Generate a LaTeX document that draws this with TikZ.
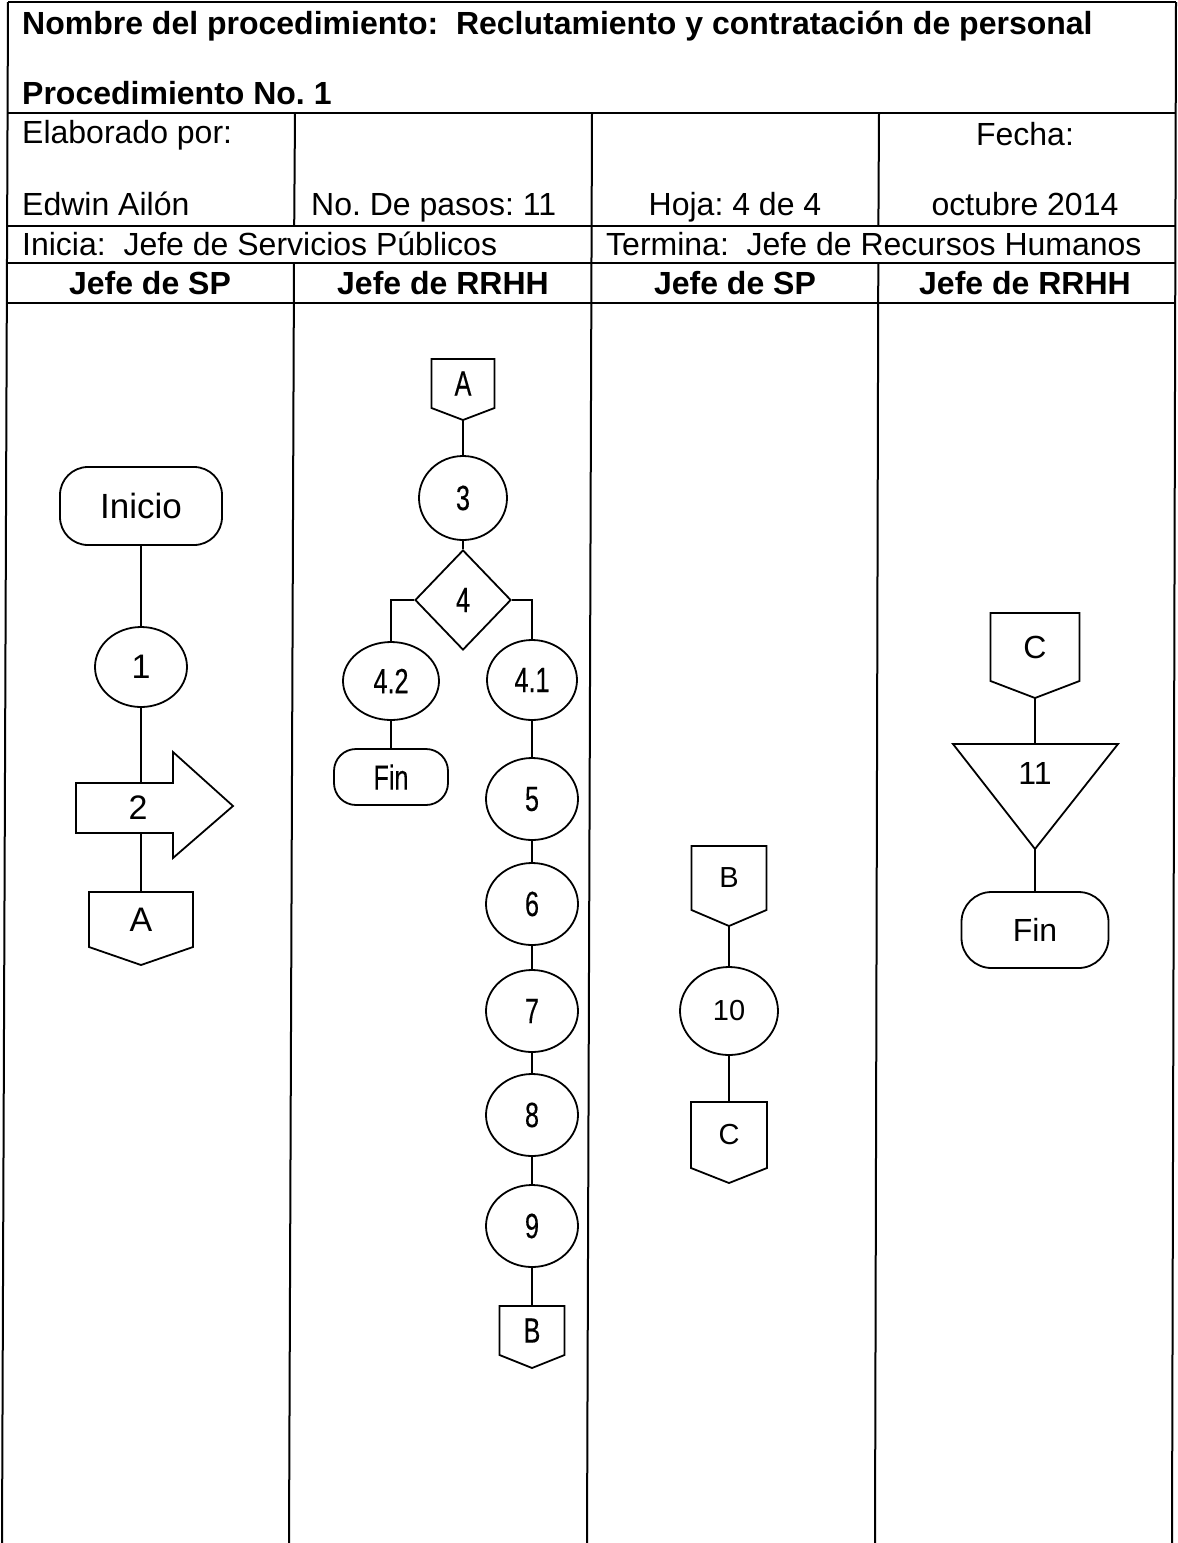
\documentclass[tikz,border=0pt]{standalone}
\usepackage{fontspec}
\setmainfont{Liberation Sans}
\newfontfamily\narrowfont[FakeStretch=0.72,FakeBold=0.3]{Liberation Sans}
\usetikzlibrary{shapes.geometric}
\frenchspacing

\newcommand\fH{\fontsize{32}{37}\selectfont}
\newcommand\fL{\fontsize{34}{39}\selectfont}
\newcommand\fN{\narrowfont\fontsize{35}{40}\selectfont}
\newcommand\fS{\fontsize{29}{34}\selectfont}
\newcommand\fM{\fontsize{32}{37}\selectfont}

\tikzset{
  grid/.style={line width=2pt},
  shp/.style={draw, line width=1.8pt},
  conn/.style={line width=1.8pt},
  lbl/.style={inner sep=0pt},
  hdr/.style={inner sep=0pt, font=\fH},
  hdrb/.style={inner sep=0pt, font=\fH\bfseries},
  proc/.style={shp, ellipse, inner sep=0pt},
  termbox/.style={shp, rectangle, inner sep=0pt},
}

% name, cx, top, half width, side bottom, point, text, font
\newcommand{\offpage}[8]{%
  \draw[shp] (#2-#4,#3) -- (#2+#4,#3) -- (#2+#4,#5) -- (#2,#6) -- (#2-#4,#5) -- cycle;
  \node[lbl, font=#8] (#1) at (#2,{(#3+#5)/2}) {#7};
  \coordinate (#1-in) at (#2,#3);
  \coordinate (#1-out) at (#2,#6);}

\begin{document}
\begin{tikzpicture}[x=1pt,y=-1pt]
\useasboundingbox (0,0) rectangle (1178,1543);

% ---------- table grid ----------
\draw[grid] (8,2) -- (1176,2);
\draw[grid] (8,113) -- (1176,113);
\draw[grid] (8,226) -- (1176,226);
\draw[grid] (8,263) -- (1176,263);
\draw[grid] (8,303) -- (1176,303);
\draw[grid] (8,2) -- (2,1543);
\draw[grid] (1176,2) -- (1172,1543);
\draw[grid] (295,113) -- (294.2,226);
\draw[grid] (294,263) -- (289,1543);
\draw[grid] (592,113) -- (587,1543);
\draw[grid] (879,113) -- (878.4,226);
\draw[grid] (878.3,263) -- (875,1543);

% ---------- header texts ----------
\node[hdrb, anchor=base west] (title) at (22,34) {Nombre del procedimiento:\ \ Reclutamiento y contratación de personal};
\node[hdrb, anchor=base west] (procno) at (22,104) {Procedimiento No. 1};
\node[hdr, anchor=base west] (elab) at (22,143) {Elaborado por:};
\node[hdr, anchor=base] (fecha) at (1025,145) {Fecha:};
\node[hdr, anchor=base west] (autor) at (22,215) {Edwin Ailón};
\node[hdr, anchor=base west] (pasos) at (311,215) {No. De pasos: 11};
\node[hdr, anchor=base] (hoja) at (735,215) {Hoja: 4 de 4};
\node[hdr, anchor=base] (fechav) at (1025,215) {octubre 2014};
\node[hdr, anchor=base west] (inicia) at (22,255) {Inicia:\ \ Jefe de Servicios Públicos};
\node[hdr, anchor=base west] (termina) at (606,255) {Termina:\ \ Jefe de Recursos Humanos};
\node[hdrb, anchor=base] (lane1) at (150,294) {Jefe de SP};
\node[hdrb, anchor=base] (lane2) at (443,294) {Jefe de RRHH};
\node[hdrb, anchor=base] (lane3) at (735,294) {Jefe de SP};
\node[hdrb, anchor=base] (lane4) at (1025,294) {Jefe de RRHH};

% ---------- lane 1 ----------
\node[termbox, rounded corners=28pt, minimum width=162pt, minimum height=78pt, font=\fontsize{35}{40}\selectfont] (inicio) at (141,506) {Inicio};
\node[proc, minimum width=92pt, minimum height=80pt, font=\fL] (p1) at (141,667) {1};
\draw[shp] (76,783) -- (173,783) -- (173,752) -- (233,806) -- (173,858) -- (173,833) -- (76,833) -- cycle;
\node[lbl, font=\fL] (p2) at (138,808) {2};
\coordinate (p2in) at (141,783);
\coordinate (p2out) at (141,833);
\offpage{A1}{141}{892}{52}{947}{965}{A}{\fL}

\draw[conn] (inicio.south) -- (p1.north);
\draw[conn] (p1.south) -- (p2in);
\draw[conn] (p2out) -- (A1-in);

% ---------- lane 2 ----------
\offpage{A2}{463}{359}{31.5}{408}{420}{A}{\fN}
\node[proc, minimum width=88pt, minimum height=84pt, font=\fN] (p3) at (463,498) {3};
\node[shp, diamond, minimum width=96pt, minimum height=100pt, inner sep=0pt, font=\fN] (p4) at (463,600) {4};
\node[proc, minimum width=96pt, minimum height=78pt, font=\fN] (p42) at (391,681) {4.2};
\node[proc, minimum width=90pt, minimum height=80pt, font=\fN] (p41) at (532,680) {4.1};
\node[termbox, rounded corners=22pt, minimum width=114pt, minimum height=56pt, font=\fN] (fin2) at (391,777) {Fin};
\node[proc, minimum width=92pt, minimum height=82pt, font=\fN] (p5) at (532,799) {5};
\node[proc, minimum width=92pt, minimum height=82pt, font=\fN] (p6) at (532,904) {6};
\node[proc, minimum width=92pt, minimum height=82pt, font=\fN] (p7) at (532,1011) {7};
\node[proc, minimum width=92pt, minimum height=82pt, font=\fN] (p8) at (532,1115) {8};
\node[proc, minimum width=92pt, minimum height=82pt, font=\fN] (p9) at (532,1226) {9};
\offpage{B2}{532}{1306}{32.5}{1355}{1368}{B}{\fN}

\draw[conn] (A2-out) -- (p3.north);
\draw[conn] (p3.south) -- (p4.north);
\draw[conn] (p4.west) -| (p42.north);
\draw[conn] (p4.east) -| (p41.north);
\draw[conn] (p42.south) -- (fin2.north);
\draw[conn] (p41.south) -- (p5.north);
\draw[conn] (p5.south) -- (p6.north);
\draw[conn] (p6.south) -- (p7.north);
\draw[conn] (p7.south) -- (p8.north);
\draw[conn] (p8.south) -- (p9.north);
\draw[conn] (p9.south) -- (B2-in);

% ---------- lane 3 ----------
\offpage{B3}{729}{846}{37.5}{910}{926}{B}{\fS}
\node[proc, minimum width=98pt, minimum height=88pt, font=\fS] (p10) at (729,1011) {10};
\offpage{C3}{729}{1102}{38}{1168}{1183}{C}{\fS}
\draw[conn] (B3-out) -- (p10.north);
\draw[conn] (p10.south) -- (C3-in);

% ---------- lane 4 ----------
\offpage{C4}{1035}{613}{44.5}{681}{698}{C}{\fM}
\draw[shp] (953,744) -- (1118,744) -- (1035,849) -- cycle;
\node[lbl, font=\fM] (p11) at (1035,773) {11};
\coordinate (p11in) at (1035,744);
\coordinate (p11out) at (1035,849);
\node[termbox, rounded corners=30pt, minimum width=147pt, minimum height=76pt, font=\fM] (fin4) at (1035,930) {Fin};
\draw[conn] (C4-out) -- (p11in);
\draw[conn] (p11out) -- (fin4.north);
\end{tikzpicture}
\end{document}
